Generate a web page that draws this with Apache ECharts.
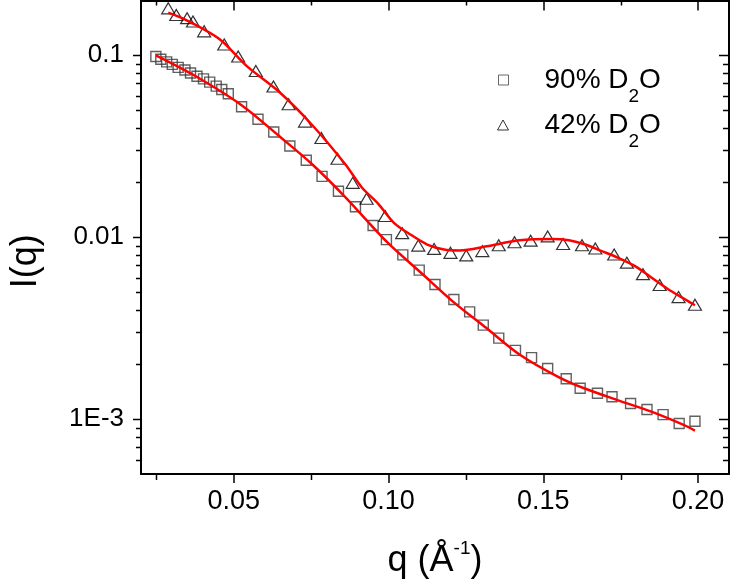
<!DOCTYPE html>
<html><head><meta charset="utf-8">
<script src="https://cdn.jsdelivr.net/npm/echarts@6/dist/echarts.min.js"></script>
<style>html,body{margin:0;padding:0;background:#fff}#c{width:730px;height:588px}</style>
</head><body><div id="c"></div>
<script>
// ---- data ----
const seriesNames = ['90% D2O', '42% D2O'];

const q90 = [0.0248, 0.0264, 0.0283, 0.0301, 0.0320, 0.0342, 0.0360, 0.0381, 0.0402, 0.0422, 0.0443, 0.0461, 0.0482,
  0.0525, 0.0578, 0.0629, 0.0681, 0.0734, 0.0785, 0.0838, 0.0893, 0.0950, 0.0993, 0.1046, 0.1099, 0.1150, 0.1211,
  0.1262, 0.1306, 0.1356, 0.1410, 0.1462, 0.1514, 0.1574, 0.1619, 0.1675, 0.1722, 0.1782, 0.1835, 0.1887, 0.1939, 0.1990];
const I90 = [0.0984, 0.0951, 0.0920, 0.0891, 0.0858, 0.0830, 0.0799, 0.0767, 0.0742, 0.0712, 0.0677, 0.0649, 0.0615,
  0.0521, 0.0445, 0.0379, 0.0317, 0.0265, 0.0216, 0.0179, 0.0147, 0.0116, 0.0097, 0.0080, 0.0066, 0.0055, 0.00455,
  0.00389, 0.00329, 0.00279, 0.00239, 0.00218, 0.00190, 0.00167, 0.00148, 0.00139, 0.00133, 0.00122, 0.00113, 0.00106, 0.000948, 0.000975];

const q42 = [0.0288, 0.0314, 0.0349, 0.0368, 0.0404, 0.0469, 0.0514, 0.0571, 0.0628, 0.0677, 0.0730, 0.0783, 0.0835,
  0.0884, 0.0929, 0.0989, 0.1044, 0.1096, 0.1147, 0.1200, 0.1251, 0.1303, 0.1356, 0.1407, 0.1459, 0.1514, 0.1564,
  0.1625, 0.1668, 0.1729, 0.1770, 0.1822, 0.1876, 0.1937, 0.1990];
const I42 = [0.1811, 0.1666, 0.1600, 0.1533, 0.1354, 0.1147, 0.0984, 0.0819, 0.0674, 0.0538, 0.0432, 0.0351, 0.0270,
  0.0199, 0.01628, 0.01308, 0.01053, 0.00900, 0.00863, 0.00821, 0.00795, 0.00839, 0.00903, 0.00938, 0.00958, 0.01011, 0.00918,
  0.00903, 0.00867, 0.00804, 0.00725, 0.00627, 0.00547, 0.00469, 0.00426];

const fitQ90 = [0.0248, 0.0370, 0.0525, 0.0647, 0.0753, 0.0860, 0.0998, 0.1104, 0.1210, 0.1317, 0.1423, 0.1551, 0.1636, 0.1742, 0.1849, 0.1955, 0.1990];
const fitI90 = [0.1000, 0.0779, 0.0532, 0.0359, 0.0252, 0.01663, 0.00930, 0.00640, 0.00440, 0.00316, 0.00227, 0.00170, 0.00147, 0.00127, 0.00110, 0.000928, 0.000866];

const fitQ42 = [0.0288, 0.0349, 0.0455, 0.0541, 0.0647, 0.0753, 0.0860, 0.0913, 0.0966, 0.1019, 0.1072, 0.1125, 0.1179, 0.1230,
  0.1317, 0.1423, 0.1529, 0.1583, 0.1636, 0.1689, 0.1742, 0.1795, 0.1849, 0.1902, 0.1955, 0.1990];
const fitI42 = [0.1714, 0.1552, 0.1221, 0.0875, 0.0628, 0.0414, 0.0252, 0.01884, 0.01530, 0.01193, 0.01032, 0.00912, 0.00856, 0.00846,
  0.00892, 0.00962, 0.00977, 0.00962, 0.00912, 0.00839, 0.00771, 0.00696, 0.00601, 0.00520, 0.00459, 0.00423];

const xMajorTicks = [0.05, 0.10, 0.15, 0.20];
const xMinorTicks = [0.025, 0.075, 0.125, 0.175];
const yMajorTicks = [0.001, 0.01, 0.1];
const yMajorLabels = ['1E-3', '0.01', '0.1'];
const yMinorTicks = [0.0006, 0.0007, 0.0008, 0.0009,
  0.002, 0.003, 0.004, 0.005, 0.006, 0.007, 0.008, 0.009,
  0.02, 0.03, 0.04, 0.05, 0.06, 0.07, 0.08, 0.09];

const xMin = 0.02, xMax = 0.21, yMin = 0.0005, yMax = 0.2;
const FONT = "'Liberation Sans', Arial, sans-serif";

// ---- helpers ----
const pairs = (xs, ys) => xs.map((x, i) => [x, ys[i]]);
const tickStyle = {stroke: '#000', lineWidth: 1.5};

function yTickSeries(values, major) {
  return {
    type: 'custom', silent: true, clip: false, z: 6,
    data: values.map(v => [xMin, v]),
    encode: {x: 0, y: 1},
    renderItem(params, api) {
      const cs = params.coordSys;
      const y = Math.round(api.coord([api.value(0), api.value(1)])[1]) + 0.5;
      const lo = major ? 8 : 5, li = major ? 10 : 6;
      return {type: 'group', children: [
        {type: 'line', shape: {x1: cs.x - lo, y1: y, x2: cs.x, y2: y}, style: tickStyle},
        {type: 'line', shape: {x1: cs.x + cs.width - li, y1: y, x2: cs.x + cs.width, y2: y}, style: tickStyle}
      ]};
    }
  };
}
function xMinorTickSeries(values) {
  return {
    type: 'custom', silent: true, clip: false, z: 6,
    data: values.map(v => [v, yMin]),
    encode: {x: 0, y: 1},
    renderItem(params, api) {
      const cs = params.coordSys;
      const x = Math.round(api.coord([api.value(0), api.value(1)])[0]) + 0.5;
      return {type: 'group', children: [
        {type: 'line', shape: {x1: x, y1: cs.y + cs.height, x2: x, y2: cs.y + cs.height + 6}, style: tickStyle},
        {type: 'line', shape: {x1: x, y1: cs.y, x2: x, y2: cs.y + 5}, style: tickStyle}
      ]};
    }
  };
}

const axisLine = {show: true, onZero: false, lineStyle: {color: '#000', width: 2}};

const legendText = {
  fontFamily: FONT, fontSize: 28, color: '#000', lineHeight: 53,
  rich: {
    sp: {width: 31, lineHeight: 53},
    t: {fontFamily: FONT, fontSize: 28, color: '#000', lineHeight: 53, verticalAlign: 'middle'},
    sub: {fontFamily: FONT, fontSize: 19, color: '#000', verticalAlign: 'bottom'}
  }
};
const legendFormatter = name => '{sp|}{t|' + name.replace('D2O', 'D}{sub|2}{t|O}');

const option = {
  animation: false,
  backgroundColor: '#fff',
  grid: {left: 133, right: 1, top: 0.5, bottom: 107, containLabel: false},
  xAxis: [
    {
      type: 'value', position: 'bottom', min: xMin, max: xMax,
      axisLine: axisLine,
      axisTick: {show: true, customValues: xMajorTicks, length: 9, lineStyle: {color: '#000', width: 1.5}},
      axisLabel: {customValues: xMajorTicks, formatter: v => v.toFixed(2), margin: 14,
        fontFamily: FONT, fontSize: 27, color: '#000'},
      splitLine: {show: false},
      name: '{t|q (Å}{sup|-1}{t|)}',
      nameLocation: 'middle', nameGap: 65,
      nameTextStyle: {fontFamily: FONT, fontSize: 36, color: '#000', lineHeight: 44,
        rich: {
          t: {fontFamily: FONT, fontSize: 36, color: '#000', lineHeight: 44, verticalAlign: 'middle'},
          sup: {fontFamily: FONT, fontSize: 19, color: '#000', verticalAlign: 'top'}
        }}
    },
    {
      type: 'value', position: 'top', min: xMin, max: xMax,
      axisLine: axisLine,
      axisTick: {show: true, inside: true, customValues: xMajorTicks, length: 10, lineStyle: {color: '#000', width: 1.5}},
      axisLabel: {show: false, customValues: xMajorTicks},
      splitLine: {show: false}
    }
  ],
  yAxis: [
    {
      type: 'log', logBase: 10, position: 'left', min: yMin, max: yMax,
      axisLine: axisLine,
      axisTick: {show: false},
      axisLabel: {
        margin: 17, fontFamily: FONT, fontSize: 26, color: '#000',
        formatter: v => {
          const i = yMajorTicks.findIndex(t => Math.abs(Math.log10(v) - Math.log10(t)) < 1e-6);
          return i >= 0 ? yMajorLabels[i] : '';
        }
      },
      splitLine: {show: false},
      minorTick: {show: false},
      name: 'I(q)', nameLocation: 'middle', nameGap: 97, nameRotate: 90,
      nameTextStyle: {fontFamily: FONT, fontSize: 36, color: '#000', lineHeight: 36, padding: [0, 48, 0, 0]}
    },
    {
      type: 'log', logBase: 10, position: 'right', min: yMin, max: yMax,
      axisLine: axisLine,
      axisTick: {show: false},
      axisLabel: {show: false},
      splitLine: {show: false}
    }
  ],
  legend: [
    {
      data: [{name: seriesNames[0], icon: 'rect', itemStyle: {color: 'rgba(0,0,0,0)', borderColor: '#444', borderWidth: 1}}],
      orient: 'vertical', left: 493, top: 48.5, itemWidth: 10, itemHeight: 10,
      selectedMode: false, formatter: legendFormatter, textStyle: legendText
    },
    {
      data: [{name: seriesNames[1], icon: 'triangle', itemStyle: {color: 'rgba(0,0,0,0)', borderColor: '#000', borderWidth: 1}}],
      orient: 'vertical', left: 492, top: 93.5, itemWidth: 11, itemHeight: 10,
      selectedMode: false, formatter: legendFormatter, textStyle: legendText
    }
  ],
  series: [
    {
      name: seriesNames[0], type: 'scatter', xAxisIndex: 0, yAxisIndex: 0,
      data: pairs(q90, I90), symbol: 'rect', symbolSize: 10, z: 3,
      itemStyle: {color: 'rgba(0,0,0,0)', borderColor: '#3a3a3a', borderWidth: 1.4}
    },
    {
      name: seriesNames[1], type: 'scatter', xAxisIndex: 0, yAxisIndex: 0,
      data: pairs(q42, I42), symbol: 'triangle', symbolSize: [13, 11], z: 3,
      itemStyle: {color: 'rgba(0,0,0,0)', borderColor: '#000', borderWidth: 1.2}
    },
    {
      type: 'line', xAxisIndex: 0, yAxisIndex: 0, data: pairs(fitQ90, fitI90),
      smooth: 0.3, showSymbol: false, symbol: 'none', z: 4,
      lineStyle: {color: '#ff0000', width: 2.5}
    },
    {
      type: 'line', xAxisIndex: 0, yAxisIndex: 0, data: pairs(fitQ42, fitI42),
      smooth: 0.3, showSymbol: false, symbol: 'none', z: 4,
      lineStyle: {color: '#ff0000', width: 2.5}
    },
    Object.assign(yTickSeries(yMajorTicks, true), {xAxisIndex: 0, yAxisIndex: 0}),
    Object.assign(yTickSeries(yMinorTicks, false), {xAxisIndex: 0, yAxisIndex: 0}),
    Object.assign(xMinorTickSeries(xMinorTicks), {xAxisIndex: 0, yAxisIndex: 0})
  ]
};

const chart = echarts.init(document.getElementById('c'), null, {renderer: 'canvas'});
chart.setOption(option);
</script>
</body></html>
